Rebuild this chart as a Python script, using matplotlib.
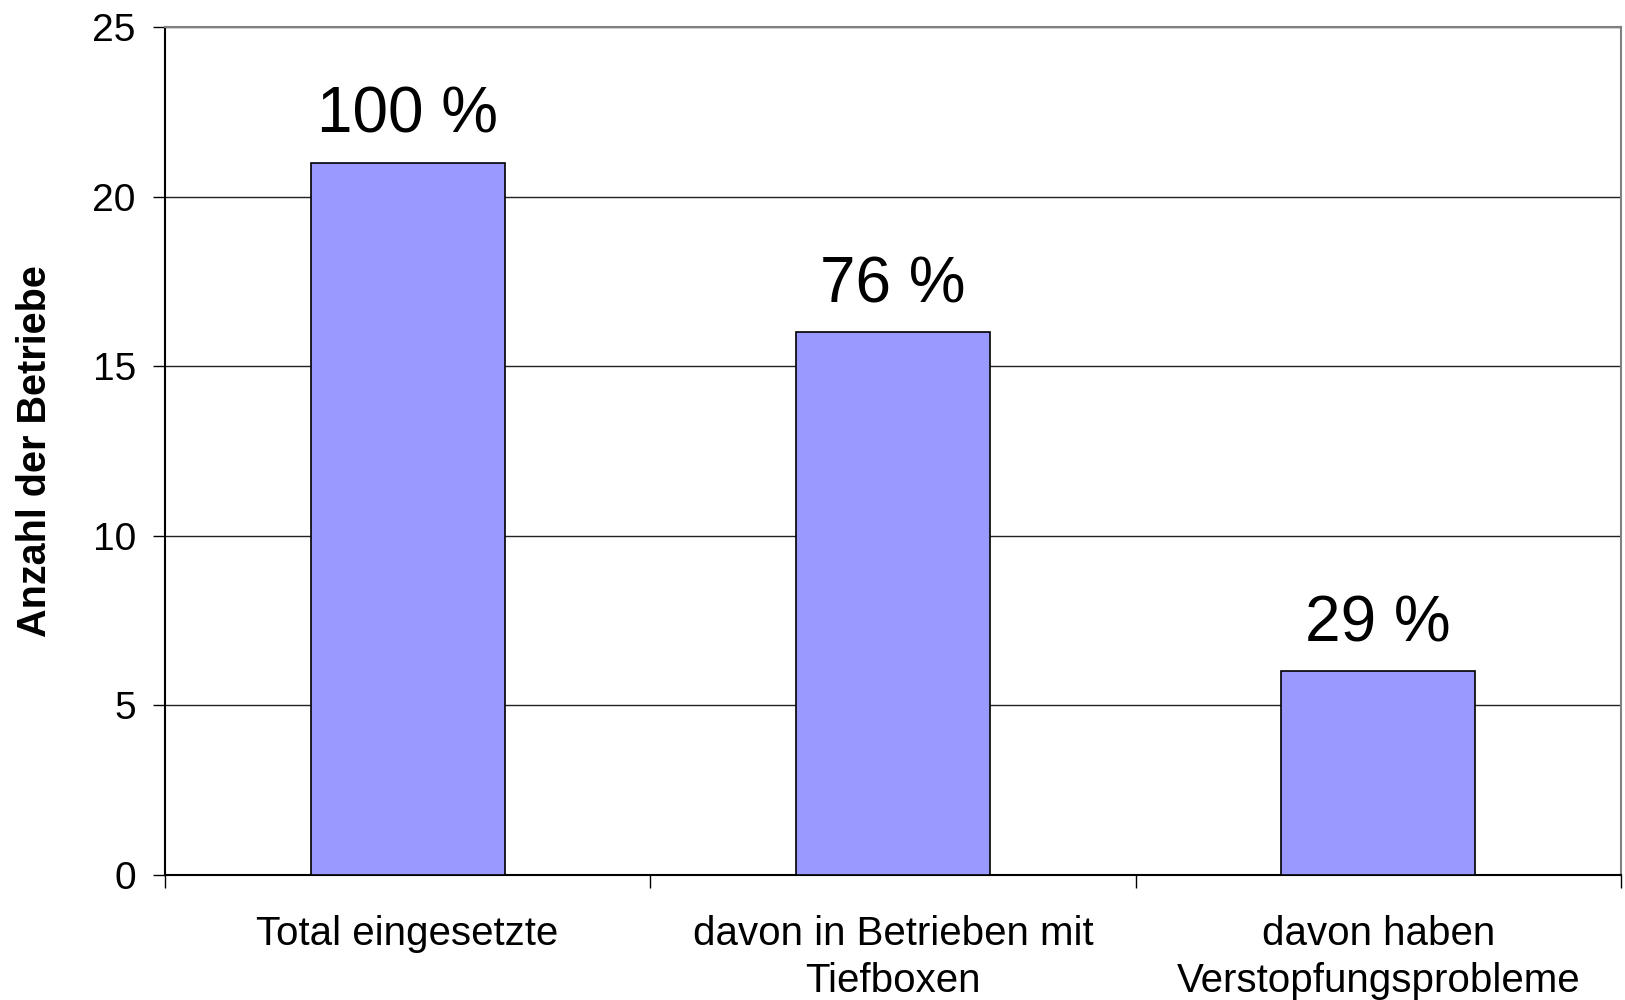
import numpy as np
import matplotlib.pyplot as plt

plt.rcParams['font.family'] = ['Liberation Sans', 'DejaVu Sans']

categories = ["Total eingesetzte", "davon in Betrieben mit\nTiefboxen",
              "davon haben\nVerstopfungsprobleme"]
counts = [21, 16, 6]
percent_labels = ["100 %", "76 %", "29 %"]

fig = plt.figure(figsize=(16.25, 10), dpi=100)
ax = fig.add_axes([0.1015, 0.125, 0.896, 0.848])

x = np.arange(len(categories))
bars = ax.bar(x, counts, width=0.4, color="#9999FF", edgecolor="black",
              linewidth=1.2, zorder=3)

for rect, lab in zip(bars, percent_labels):
    ax.text(rect.get_x() + rect.get_width() / 2, rect.get_height() + 0.5, lab,
            ha="center", va="bottom", fontsize=46)

ax.set_xlim(-0.5, 2.5)
ax.set_ylim(0, 25)
ax.set_yticks([0, 5, 10, 15, 20, 25])
ax.yaxis.grid(True, color="#222222", linewidth=1, zorder=0)
ax.set_axisbelow(True)

# x ticks at category boundaries, labels centred under bars
ax.set_xticks([-0.5, 0.5, 1.5, 2.5])
ax.set_xticklabels([])
ax.set_xticks(x, minor=True)
ax.set_xticklabels(categories, minor=True, fontsize=29, linespacing=1.3)
ax.tick_params(axis="x", which="minor", length=0, pad=29)
ax.tick_params(axis="x", which="major", length=9, width=1, direction="out")
ax.tick_params(axis="y", length=9, width=1, labelsize=28, pad=12)

ax.spines["left"].set_color("black")
ax.spines["bottom"].set_color("black")
ax.spines["top"].set_color("#808080")
ax.spines["right"].set_color("#808080")
for s in ax.spines.values():
    s.set_linewidth(1.5)

ax.set_ylabel("Anzahl der Betriebe", fontsize=28.5, fontweight="bold", labelpad=28)

fig.savefig("out.png", dpi=100, facecolor="white")
